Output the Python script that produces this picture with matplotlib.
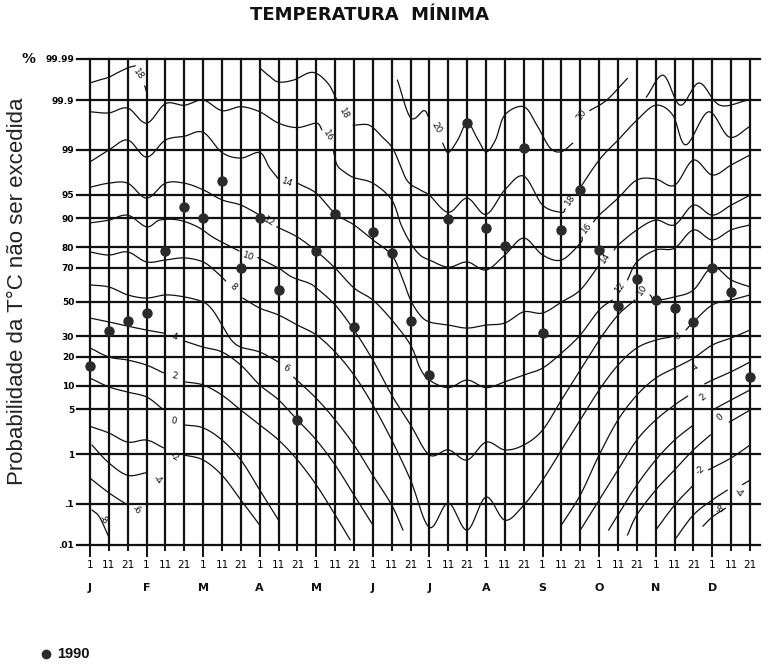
import numpy as np
import matplotlib
matplotlib.use("Agg")
import matplotlib.pyplot as plt
from matplotlib.transforms import blended_transform_factory
from statistics import NormalDist

# ---------------------------------------------------------------- data
dekad_labels = ["1", "11", "21"] * 12
months = ["J", "F", "M", "A", "M", "J", "J", "A", "S", "O", "N", "D"]
prob_ticks = [0.01, 0.1, 1, 5, 10, 20, 30, 50, 70, 80, 90, 95, 99, 99.9, 99.99]
prob_tick_labels = [".01", ".1", "1", "5", "10", "20", "30", "50", "70", "80",
                    "90", "95", "99", "99.9", "99.99"]

# 1990 minimum temperature, probability (%) of not being exceeded, per dekad
obs_1990 = [16.3, 32.8, 38.6, 43.3, 78.2, 92.7, 90.2, 96.8, 69.8, 90.2, 57.3, 3.55,
            78.2, 91.2, 35.1, 85.8, 77.3, 38.6, 13.2, 89.9, 99.69, 87.2, 80.3, 99.07,
            31.7, 86.5, 95.7, 78.7, 47.6, 63.7, 51.2, 46.3, 38.0, 69.8, 56.1, 12.6]

# isotherms: lists of segments, each a list of (dekad index, probability %)
iso_20 = [
    [(16.3, 99.966), (17, 99.76), (17.7, 99.83), (17.95, 99.77)],
    [(18.7, 99.25), (19, 98.89), (19.5, 99.34), (20, 99.70), (20.5, 99.42), (21, 98.93),
     (21.5, 99.34), (22, 99.79), (23, 99.86), (23.7, 99.66), (24.4, 99.08), (25, 98.93),
     (25.6, 99.25)],
    [(26.5, 99.83), (27.4, 99.90), (28.5, 99.969)],
    [(29.5, 99.914), (30.4, 99.974), (31.3, 99.87), (32.3, 99.960), (33.4, 99.87),
     (34.9, 99.90)],
]
iso_18 = [
    [(0, 99.960), (0.5, 99.966), (1, 99.971), (1.5, 99.978), (2, 99.983), (2.4, 99.985)],
    [(2.9, 99.953), (3.05, 99.923)],
    [(9, 99.983), (9.5, 99.973), (10, 99.962), (10.8, 99.966), (11.8, 99.978),
     (12.6, 99.960), (13.1, 99.90)],
    [(13.95, 99.66), (14.8, 99.66), (15.5, 99.42), (16.1, 99.0), (16.8, 96.9), (17.5, 95.7),
     (18, 94.9), (19, 91.5), (20, 94.4), (21, 91.0), (22, 95.7), (23, 97.3), (24, 93.1),
     (25, 91.5), (25.2, 92.3)],
    [(25.8, 95.2), (27, 98.51), (28, 99.34), (29, 99.73), (30, 99.87), (30.9, 99.79),
     (31.6, 99.19), (32.8, 99.82), (33.9, 99.42), (35, 99.64)],
]
iso_16 = [
    [(0, 99.82), (1, 99.81), (2, 99.85), (3, 99.69), (4, 99.88), (5, 99.87), (6, 99.90),
     (7, 99.83), (8, 99.86), (9, 99.82), (10, 99.69), (11, 99.62), (12, 99.69), (12.3, 99.58)],
    [(12.9, 99.0), (13.1, 98.2), (13.5, 97.66), (14, 97.15), (15, 96.55), (16, 94.1),
     (16.5, 88.1), (17, 81.6), (17.5, 76.4), (18, 74.0), (19, 70.3), (20, 73.0), (21, 68.8),
     (22, 76.4), (23, 83.6), (24, 76.4), (25, 74.0), (26, 81.6), (26.1, 84.0)],
    [(26.7, 89.0), (27, 90.8), (28, 94.4), (29, 96.9), (30, 97.0), (31, 96.3), (32, 98.51),
     (33, 97.4), (34, 98.2), (35, 98.78)],
]
iso_14 = [
    [(0, 98.40), (1, 99.0), (2, 99.34), (3, 98.67), (4, 99.34), (5, 99.44), (6, 99.53),
     (7, 98.89), (8, 98.62), (9, 98.89), (9.5, 98.05), (10, 97.0)],
    [(11, 96.55), (12, 95.2), (13, 91.2), (14, 88.1), (15, 82.9), (16, 76.4), (16.5, 66.0),
     (17, 51.2), (17.5, 42.1), (18, 38.0), (19, 36.2), (20, 34.5), (21, 36.2), (22, 37.4),
     (23, 44.0), (24, 43.3), (25, 50.0), (26, 57.3), (27, 71.4)],
    [(27.8, 78.7), (28, 80.8), (29, 86.5), (30, 89.5), (31, 88.1), (32, 93.1), (33, 90.8),
     (34, 93.1), (35, 94.9)],
]
iso_12 = [
    [(0, 96.05), (1, 96.55), (2, 96.55), (3, 94.4), (4, 96.55), (5, 96.55), (6, 95.7),
     (7, 94.1), (8, 93.1), (9, 90.8), (9.2, 90.2)],
    [(9.9, 87.5), (11, 84.0), (12, 78.2), (13, 69.8), (14, 58.5), (15, 51.2), (16, 39.2),
     (17, 25.5), (17.5, 15.6), (18, 11.6), (19, 9.5), (20, 11.6), (21, 9.5), (22, 11.1),
     (23, 13.2), (24, 15.6), (25, 21.7), (26, 30.7), (27, 45.1), (27.7, 51.2)],
    [(28.5, 63.2), (29, 73.0), (30, 78.7), (31, 79.5), (32, 86.5), (33, 82.9), (34, 86.5),
     (35, 88.1)],
]
iso_10 = [
    [(0, 88.7), (1, 89.5), (2, 90.8), (3, 87.5), (3.7, 89.5), (4.7, 89.5), (5.7, 87.5),
     (6.5, 84.0), (7.3, 80.8), (7.9, 78.3)],
    [(8.9, 75.2), (10, 69.8), (10.7, 64.9), (11.6, 61.4), (12, 58.5), (13, 48.2), (14, 33.4),
     (15, 18.7), (16, 7.7), (17, 3.0), (18, 0.96), (19, 1.18), (20, 0.78), (21, 1.6),
     (22, 1.18), (23, 1.43), (24, 2.5), (25, 6.7), (26, 14.9), (27, 28.0), (28, 42.1),
     (28.9, 51.2)],
    [(29.7, 54.3), (30, 51.2), (31, 53.1), (32, 57.3), (33, 70.3), (34, 63.2), (35, 59.1)],
]
iso_8 = [
    [(0, 77.8), (1, 76.4), (2, 77.8), (3, 73.0), (4, 74.0), (5, 75.0), (6, 73.0), (6.7, 67.7),
     (7.2, 62.6)],
    [(8.1, 52.4), (9, 46.3), (10, 42.1), (11, 36.2), (12, 30.7), (13, 22.2), (14, 13.2),
     (15, 5.75), (16, 1.73), (17, 0.32), (18, 0.028), (19, 0.105), (20, 0.024), (21, 0.142),
     (22, 0.042), (23, 0.094), (24, 0.32), (25, 1.18), (26, 3.55), (27, 8.9), (28, 16.7),
     (29, 24.1), (30, 28.0), (30.8, 29.6)],
    [(31.6, 33.4), (32, 38.0), (33, 48.2), (34, 51.2), (35, 54.3)],
]
iso_6 = [
    [(0, 60.3), (1, 59.1), (2, 54.3), (3, 52.4), (4, 54.3), (5, 53.1), (6, 50.0), (6.5, 45.1),
     (7, 36.2), (7.5, 28.0), (8, 24.5), (9, 22.2), (10, 17.9)],
    [(10.8, 12.5), (12, 7.0), (13, 3.55), (14, 1.43), (15, 0.40), (16, 0.094), (16.6, 0.024)],
    [(25, 0.032), (26, 0.157), (27, 0.96), (28, 3.55), (29, 7.7), (30, 12.2), (31, 15.6),
     (32, 19.5), (33, 25.5), (34, 29.1), (35, 33.4)],
]
iso_4 = [
    [(0, 40.3), (1, 38.0), (2, 35.6), (3, 33.4), (3.9, 31.7)],
    [(5, 27.5), (6, 24.5), (7, 22.2), (8, 16.7), (9, 10.2), (10, 6.7), (11, 3.55), (12, 1.73),
     (13, 0.63), (14, 0.157), (15, 0.032)],
    [(26, 0.024), (27, 0.122), (28, 0.51), (29, 1.73), (30, 3.55), (31, 5.75), (31.7, 7.5)],
    [(32.6, 10.5), (33, 11.6), (34, 14.3), (35, 17.9)],
]
iso_2 = [
    [(0, 24.1), (1, 20.0), (2, 18.7), (3, 16.7), (3.9, 13.9)],
    [(5, 11.1), (6, 10.2), (7, 7.7), (8, 4.9), (9, 3.0), (10, 1.73), (11, 0.78), (12, 0.255),
     (13, 0.056), (13.8, 0.0135)],
    [(27.5, 0.024), (28, 0.056), (29, 0.255), (30, 0.78), (31, 1.73), (32, 3.0)],
    [(33, 4.9), (34, 6.7), (35, 8.9)],
]
iso_0 = [
    [(0, 12.2), (1, 9.7), (2, 8.4), (3, 7.3), (3.8, 5.2)],
    [(5, 3.0), (6, 2.7), (7, 1.73), (8, 0.78), (9, 0.20), (10, 0.042)],
    [(28.5, 0.018), (29, 0.056), (30, 0.20), (31, 0.51), (32, 1.18), (32.9, 2.1)],
    [(33.9, 3.3), (35, 4.9)],
]
iso_m2 = [
    [(0, 2.85), (1, 2.25), (2, 1.6), (3, 1.73), (3.9, 1.28)],
    [(5, 0.96), (6, 0.78), (7, 0.40), (8, 0.122), (9, 0.032)],
    [(30, 0.024), (31, 0.094), (32, 0.255)],
    [(32.8, 0.51), (34, 0.85), (35, 1.43)],
]
iso_m4 = [
    [(0.1, 1.43), (1, 0.69), (2, 0.40), (3, 0.45)],
    [(31, 0.0135), (32, 0.056), (33, 0.122), (33.8, 0.20)],
    [(34.6, 0.26), (35, 0.32)],
]
iso_m6 = [
    [(0, 0.35), (1, 0.175), (2, 0.094)],
]
iso_m8 = [
    [(0.1, 0.073), (0.5, 0.050), (1, 0.016)],
    [(32.5, 0.03), (33, 0.05), (33.7, 0.08)],
]
isotherms = [iso_20, iso_18, iso_16, iso_14, iso_12, iso_10, iso_8, iso_6, iso_4,
             iso_2, iso_0, iso_m2, iso_m4, iso_m6, iso_m8]

# isotherm labels: (text, dekad index, probability %, rotation)
iso_labels = [
    ("18", 2.55, 99.975, -55), ("18", 13.45, 99.80, -60), ("20", 18.35, 99.62, -60),
    ("16", 12.6, 99.45, -60), ("14", 10.45, 96.6, -20), ("12", 9.5, 89.0, -30),
    ("10", 8.4, 75.5, -20), ("8", 7.6, 59.1, -40), ("6", 10.4, 15.6, -30),
    ("4", 4.5, 29.4, -10), ("2", 4.5, 12.8, -10), ("0", 4.45, 3.45, -10),
    ("-2", 4.5, 0.89, -30), ("-4", 3.6, 0.32, -40), ("-6", 2.5, 0.073, -30),
    ("-8", 0.7, 0.042, -40),
    ("20", 26.05, 99.79, 55), ("18", 25.45, 94.1, 55), ("16", 26.35, 87.2, 50),
    ("14", 27.3, 75.0, 55), ("12", 28.1, 59.1, 55), ("10", 29.3, 57.3, 55),
    ("8", 31.2, 30.0, 40), ("4", 32.1, 16.0, 40), ("2", 32.5, 7.3, 40),
    ("0", 33.4, 3.9, 40), ("-2", 32.35, 0.51, 40), ("-4", 34.4, 0.175, -40),
    ("-8", 33.4, 0.073, 30),
]

# ---------------------------------------------------------------- scale
_nd = NormalDist()
_ppf = np.vectorize(lambda p: _nd.inv_cdf(min(max(p, 1e-12), 1 - 1e-12)), otypes=[float])
_cdf = np.vectorize(_nd.cdf, otypes=[float])


def to_probit(pct):
    return _ppf(np.asarray(pct, dtype=float) / 100.0)


def from_probit(z):
    return 100.0 * _cdf(np.asarray(z, dtype=float))


def catmull_rom(xs, zs, n=12):
    pts = np.column_stack([xs, zs]).astype(float)
    if len(pts) < 3:
        return pts[:, 0], pts[:, 1]
    pts = np.vstack([2 * pts[0] - pts[1], pts, 2 * pts[-1] - pts[-2]])
    t = np.linspace(0, 1, n, endpoint=False)[:, None]
    out = []
    for k in range(1, len(pts) - 2):
        p0, p1, p2, p3 = pts[k - 1], pts[k], pts[k + 1], pts[k + 2]
        out.append(0.5 * (2 * p1 + (-p0 + p2) * t
                          + (2 * p0 - 5 * p1 + 4 * p2 - p3) * t ** 2
                          + (-p0 + 3 * p1 - 3 * p2 + p3) * t ** 3))
    out.append(pts[-2][None, :])
    out = np.vstack(out)
    return out[:, 0], out[:, 1]


# ---------------------------------------------------------------- figure
plt.rcParams["font.family"] = ["DejaVu Sans"]
fig = plt.figure(figsize=(7.7, 6.65), dpi=100)
ax = fig.add_axes([77 / 770, 1 - 545 / 665, (760 - 77) / 770, (545 - 59) / 665])
ax.set_yscale("function", functions=(to_probit, from_probit))
ax.set_xlim(-0.69, 35.53)
ax.set_ylim(0.01, 99.99)
for s in ax.spines.values():
    s.set_visible(False)

ink = "#111111"
for p in prob_ticks:
    ax.axhline(p, color=ink, lw=1.6, clip_on=False, zorder=1)
for i in range(36):
    ax.axvline(i, color=ink, lw=1.6, clip_on=False, zorder=1)

ax.set_yticks(prob_ticks)
ax.set_yticklabels(prob_tick_labels, fontsize=6.5, fontweight="bold")
ax.tick_params(axis="y", length=0, pad=2)

major = [i for i in range(36) if i % 3 == 0]
minor = [i for i in range(36) if i % 3 != 0]
ax.set_xticks(major)
ax.set_xticklabels([dekad_labels[i] for i in major], fontsize=7.5)
ax.set_xticks(minor, minor=True)
ax.set_xticklabels([dekad_labels[i] for i in minor], minor=True, fontsize=7.5)
ax.tick_params(axis="x", which="major", length=8.5, width=1.4, pad=2, color=ink)
ax.tick_params(axis="x", which="minor", length=4.3, width=1.4, pad=6.2, color=ink)

trans = blended_transform_factory(ax.transData, ax.transAxes)
for m, name in enumerate(months):
    ax.text(3 * m, -0.088, name, transform=trans, ha="center", va="center",
            fontsize=8, fontweight="bold", color=ink)

# isotherms
for iso in isotherms:
    for seg in iso:
        xs = [p[0] for p in seg]
        zs = to_probit([p[1] for p in seg])
        sx, sz = catmull_rom(xs, zs)
        ax.plot(sx, from_probit(sz), color=ink, lw=0.9, zorder=2, solid_capstyle="round")

for txt, x, p, rot in iso_labels:
    ax.text(x, p, txt, fontsize=6.5, rotation=rot, ha="center", va="center",
            color=ink, zorder=3)

# 1990 observations
ax.plot(range(36), obs_1990, ls="none", marker="o", ms=6.5, color="#2a2a2a", zorder=4)

# titles and labels
fig.text(370 / 770, 1 - 15 / 665, "TEMPERATURA  MÍNIMA", ha="center", va="center",
         fontsize=13, fontweight="bold", color=ink)
fig.text(28 / 770, 1 - 59 / 665, "%", ha="center", va="center", fontsize=10,
         fontweight="bold", color=ink)
fig.text(18 / 770, 1 - 291 / 665, "Probabilidade da T°C não ser excedida", rotation=90,
         ha="center", va="center", fontsize=16, family=["Liberation Sans", "DejaVu Sans"],
         color="#222222")

fig.lines.append(plt.Line2D([46 / 770], [1 - 654 / 665], transform=fig.transFigure,
                            marker="o", ms=6, color="#2a2a2a", ls="none"))
fig.text(57 / 770, 1 - 654 / 665, "1990", ha="left", va="center", fontsize=10.5,
         fontweight="bold", family=["Liberation Sans", "DejaVu Sans"], color=ink)

fig.savefig("out.png", dpi=100, facecolor="white")
